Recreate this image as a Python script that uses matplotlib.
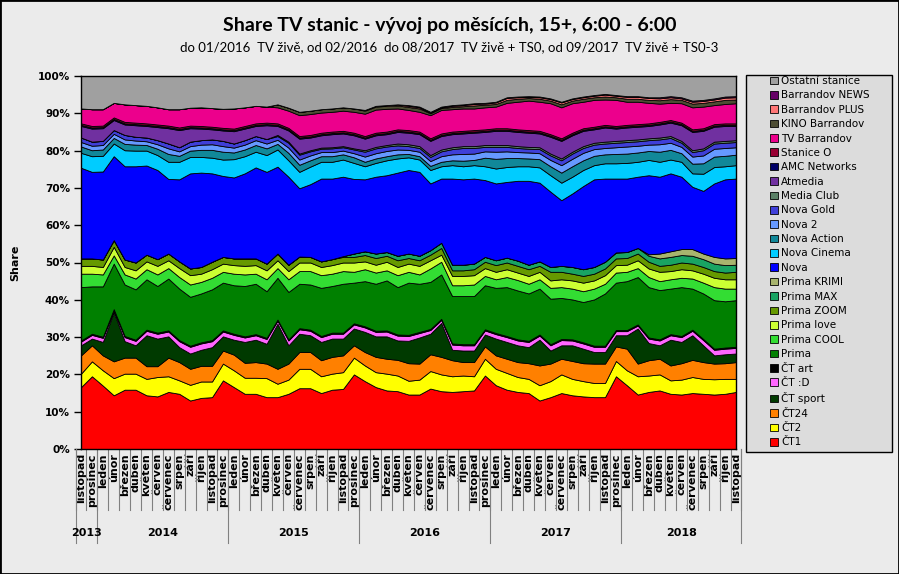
import matplotlib.pyplot as plt
from matplotlib.patches import Patch, Rectangle
import numpy as np

# categories: listopad 2013 .. listopad 2018
month_names = ['leden', 'únor', 'březen', 'duben', 'květen', 'červen',
               'červenec', 'srpen', 'září', 'říjen', 'listopad', 'prosinec']
years = ['2013', '2014', '2015', '2016', '2017', '2018']
year_counts = [2, 12, 12, 12, 12, 11]
months = month_names[10:] + month_names * 4 + month_names[:11]

# shares in %, bottom -> top of the stack
ct1 = [16.6, 19.5, 17.0, 14.4, 15.9, 15.9, 14.4, 14.1, 15.3, 14.8,
       13.0, 13.7, 13.9, 18.4, 16.6, 14.8, 14.8, 13.9, 13.9, 14.8,
       16.3, 16.3, 15.0, 15.9, 16.1, 20.0, 18.2, 16.6, 15.7, 15.5,
       14.6, 14.6, 16.2, 15.5, 15.3, 15.5, 15.7, 19.7, 17.1, 15.9,
       15.3, 15.0, 13.0, 13.9, 15.0, 14.4, 14.1, 13.9, 13.9, 19.5,
       17.1, 14.6, 15.3, 15.7, 14.8, 14.6, 15.0, 14.8, 14.6, 14.8, 15.3]
ct2 = [3.6, 4.0, 4.1, 4.6, 4.3, 4.3, 4.4, 5.2, 4.2, 3.6,
       4.2, 4.4, 4.2, 4.5, 4.5, 4.3, 4.3, 5.1, 3.6, 3.8,
       5.2, 5.2, 4.5, 4.3, 4.5, 4.5, 4.2, 4.0, 4.5, 4.2,
       3.7, 4.0, 4.7, 4.5, 4.2, 4.2, 3.8, 4.5, 4.4, 4.5,
       4.0, 3.8, 4.1, 4.3, 5.0, 4.4, 4.1, 3.8, 3.8, 4.1,
       4.0, 4.9, 4.4, 4.3, 3.6, 4.0, 4.3, 4.0, 4.1, 4.0, 3.5]
ct24 = [4.9, 4.3, 4.0, 4.5, 4.3, 4.3, 3.4, 2.9, 5.0, 4.9,
        4.3, 4.2, 4.2, 3.5, 4.2, 4.0, 4.2, 3.9, 4.0, 4.3,
        4.5, 4.5, 4.3, 4.5, 4.5, 3.3, 3.6, 4.1, 4.0, 4.2,
        4.7, 4.3, 4.5, 4.7, 4.3, 3.6, 3.8, 3.3, 3.6, 3.8,
        4.0, 4.2, 5.3, 4.7, 4.2, 4.8, 4.8, 5.2, 5.2, 3.9,
        5.8, 3.4, 4.1, 4.2, 4.0, 4.4, 4.6, 4.5, 4.2, 4.2, 4.5]
ct_sport = [2.7, 1.8, 3.6, 13.2, 4.4, 3.3, 8.3, 7.4, 5.7, 4.0,
            4.1, 4.3, 5.0, 3.8, 4.0, 5.6, 6.0, 5.3, 12.1, 4.9,
            4.9, 4.5, 4.9, 4.9, 4.5, 4.5, 5.4, 5.5, 6.0, 5.2,
            6.0, 7.0, 5.5, 9.1, 2.8, 3.1, 3.1, 3.2, 4.5, 4.5,
            4.5, 4.3, 6.9, 3.5, 3.6, 4.2, 3.9, 3.1, 3.1, 3.0,
            3.6, 9.4, 4.6, 3.6, 6.9, 5.7, 6.6, 4.5, 2.2, 2.4, 2.3]
ct_d = [1.0, 1.0, 1.1, 0.5, 1.1, 1.2, 1.2, 1.3, 1.3, 1.6,
        1.8, 1.7, 1.6, 1.3, 1.3, 1.2, 1.2, 1.3, 0.8, 1.3,
        1.2, 1.2, 1.3, 1.3, 1.3, 1.1, 1.2, 1.2, 1.3, 1.3,
        1.3, 1.2, 1.0, 0.8, 1.4, 1.4, 1.4, 1.1, 1.2, 1.3,
        1.3, 1.4, 1.1, 1.4, 1.4, 1.3, 1.4, 1.4, 1.4, 1.1,
        1.1, 0.8, 1.2, 1.3, 1.2, 1.3, 1.2, 1.4, 1.5, 1.5, 1.5]
ct_art = [0.3, 0.3, 0.3, 0.3, 0.3, 0.3, 0.3, 0.3, 0.3, 0.3,
          0.3, 0.3, 0.3, 0.3, 0.3, 0.3, 0.3, 0.3, 0.3, 0.3,
          0.3, 0.3, 0.3, 0.3, 0.3, 0.3, 0.3, 0.3, 0.3, 0.3,
          0.3, 0.3, 0.3, 0.3, 0.3, 0.3, 0.3, 0.3, 0.3, 0.3,
          0.3, 0.3, 0.3, 0.3, 0.3, 0.3, 0.3, 0.3, 0.3, 0.3,
          0.3, 0.3, 0.3, 0.3, 0.3, 0.3, 0.3, 0.3, 0.3, 0.3, 0.3]
prima = [14.3, 12.7, 13.5, 12.2, 13.8, 13.5, 13.5, 12.5, 13.9, 13.8,
         13.1, 13.1, 13.6, 12.8, 13.0, 13.5, 13.5, 12.5, 11.2, 12.7,
         11.9, 12.1, 12.9, 12.5, 13.1, 10.9, 12.1, 12.6, 13.4, 12.7,
         14.0, 12.9, 12.6, 11.9, 12.7, 12.9, 12.9, 11.8, 12.1, 13.1,
         13.1, 12.7, 12.3, 12.2, 11.0, 10.7, 10.8, 12.4, 14.0, 12.7,
         13.1, 12.7, 13.5, 13.2, 12.2, 13.1, 11.0, 12.2, 13.0, 12.4, 12.5]
prima_cool = [3.6, 3.4, 3.2, 2.2, 2.7, 2.9, 2.7, 3.1, 2.8, 3.1,
              3.3, 3.1, 3.1, 2.9, 3.1, 3.1, 2.7, 3.2, 2.6, 3.4,
              3.4, 3.6, 3.4, 3.3, 3.4, 2.9, 3.2, 3.0, 2.7, 3.2,
              2.9, 2.5, 3.6, 3.4, 2.9, 2.9, 3.1, 2.5, 2.3, 2.7,
              2.8, 2.6, 2.5, 2.9, 2.9, 2.9, 2.9, 2.9, 2.6, 2.7,
              2.5, 2.4, 2.7, 2.4, 2.5, 2.5, 2.7, 2.9, 3.5, 3.4, 3.1]
prima_love = [2.1, 2.1, 2.0, 2.3, 2.0, 2.2, 2.1, 2.3, 2.1, 2.4,
              2.5, 2.2, 2.3, 2.2, 2.3, 2.3, 2.3, 2.4, 2.1, 2.2,
              2.3, 2.3, 2.2, 2.3, 2.3, 2.5, 2.1, 2.1, 2.3, 2.2,
              2.2, 2.3, 2.2, 1.9, 2.5, 2.5, 2.5, 2.1, 2.0, 2.1,
              2.0, 2.1, 2.0, 2.0, 2.1, 2.2, 2.3, 2.2, 2.3, 2.0,
              1.9, 2.1, 2.3, 2.5, 2.2, 2.3, 2.2, 2.4, 2.5, 2.5, 2.5]
prima_zoom = [2.0, 2.0, 2.0, 1.8, 2.0, 2.1, 1.8, 1.8, 1.8, 1.8,
              1.8, 1.8, 2.0, 1.8, 1.8, 2.0, 1.8, 1.8, 1.8, 1.7,
              1.6, 1.5, 1.5, 1.6, 1.5, 1.5, 1.7, 1.8, 1.6, 1.8,
              1.5, 1.5, 1.5, 1.8, 1.5, 1.5, 1.6, 1.7, 1.8, 1.8,
              1.8, 1.8, 1.6, 2.3, 2.0, 1.8, 1.8, 1.8, 1.8, 1.8,
              1.8, 1.8, 1.8, 1.6, 1.7, 1.8, 1.8, 1.8, 1.8, 1.8, 2.0]
prima_max = [0, 0, 0, 0, 0, 0, 0, 0, 0, 0,
             0, 0, 0, 0, 0, 0, 0, 0, 0, 0,
             0, 0, 0, 0, 0.2, 0.9, 1.0, 1.2, 1.0, 1.2,
             1.2, 1.2, 1.2, 1.4, 1.5, 1.5, 1.5, 1.3, 1.3, 1.3,
             1.4, 1.2, 1.2, 1.3, 1.6, 1.8, 1.8, 1.8, 1.8, 1.6,
             1.6, 1.5, 1.6, 2.0, 2.1, 2.0, 2.1, 2.1, 2.0, 2.0, 1.9]
prima_krimi = [0, 0, 0, 0, 0, 0, 0, 0, 0, 0,
               0, 0, 0, 0, 0, 0, 0, 0, 0, 0,
               0, 0, 0, 0, 0, 0, 0, 0, 0, 0,
               0, 0, 0, 0, 0, 0, 0, 0, 0, 0,
               0, 0, 0, 0, 0, 0, 0, 0, 0, 0,
               0, 0, 0.4, 1.3, 1.5, 1.6, 1.8, 1.5, 1.8, 1.8, 1.8]
nova = [24.3, 23.2, 23.6, 22.5, 25.0, 25.8, 23.9, 23.9, 20.0, 22.0,
        25.5, 25.3, 23.7, 21.7, 21.7, 22.8, 24.4, 24.6, 23.3, 23.6,
        18.3, 19.5, 22.2, 21.6, 21.3, 20.0, 19.3, 20.6, 20.6, 22.3,
        22.4, 22.5, 17.9, 17.2, 23.1, 22.9, 22.8, 20.6, 20.6, 20.3,
        21.4, 22.5, 21.1, 20.2, 17.6, 19.7, 22.3, 23.5, 22.3, 19.8,
        19.7, 19.1, 21.2, 20.6, 20.9, 19.4, 16.7, 16.8, 19.7, 21.2, 21.3]
nova_cinema = [4.0, 4.2, 4.2, 3.4, 4.3, 4.2, 4.0, 4.0, 4.6, 4.7,
               4.4, 4.2, 4.2, 4.4, 4.9, 4.6, 4.2, 4.5, 4.6, 4.4,
               4.4, 4.7, 4.5, 4.5, 4.6, 4.3, 3.5, 3.7, 4.0, 3.8,
               3.4, 3.3, 3.6, 3.3, 3.6, 3.5, 3.6, 3.7, 4.0, 4.0,
               3.9, 3.9, 4.1, 4.4, 4.7, 4.5, 4.3, 3.8, 4.1, 4.1,
               4.2, 4.0, 4.1, 4.0, 3.7, 4.0, 3.6, 4.6, 4.4, 3.5, 3.6]
nova_action = [1.7, 1.6, 1.7, 1.5, 1.7, 1.6, 1.5, 1.7, 2.1, 1.6,
               1.7, 1.9, 2.1, 2.1, 1.8, 1.8, 1.8, 1.8, 1.5, 2.0,
               1.9, 1.7, 1.5, 1.5, 1.4, 1.5, 1.2, 1.2, 1.1, 1.1,
               0.9, 0.9, 1.1, 1.2, 1.3, 1.5, 1.4, 2.3, 2.6, 2.4,
               2.2, 2.1, 2.2, 2.4, 2.7, 2.8, 2.6, 2.5, 2.4, 2.5,
               2.5, 2.5, 2.4, 2.7, 2.6, 2.3, 2.6, 2.8, 2.8, 2.8, 2.8]
nova_2 = [1.2, 1.2, 1.2, 1.1, 1.2, 1.1, 1.0, 1.2, 1.5, 1.2,
          1.2, 1.4, 1.5, 1.5, 1.3, 1.3, 1.3, 1.3, 1.1, 1.4,
          1.4, 1.3, 1.1, 1.1, 1.0, 1.1, 1.4, 1.4, 1.4, 1.3,
          1.1, 1.2, 1.3, 1.5, 1.6, 1.8, 1.7, 1.7, 1.9, 1.8,
          1.6, 1.6, 1.6, 1.7, 2.0, 2.0, 2.0, 1.8, 1.7, 1.8,
          1.9, 1.8, 1.7, 2.0, 1.9, 1.7, 1.9, 2.1, 2.1, 2.1, 2.0]
nova_gold = [1.2, 1.1, 1.1, 1.0, 1.2, 1.0, 1.0, 1.1, 1.3, 1.1,
             1.2, 1.2, 1.3, 1.4, 1.1, 1.2, 1.1, 1.2, 1.0, 1.3,
             1.3, 1.1, 0.9, 1.0, 0.9, 1.0, 1.3, 1.3, 1.2, 1.1,
             1.0, 1.0, 1.1, 1.3, 1.4, 1.6, 1.5, 1.2, 1.3, 1.2,
             1.1, 1.0, 1.1, 1.2, 1.3, 1.4, 1.3, 1.2, 1.2, 1.2,
             1.2, 1.2, 1.2, 1.3, 1.3, 1.1, 1.2, 1.4, 1.4, 1.4, 1.4]
media_club = [0, 0, 0, 0, 0, 0, 0, 0, 0, 0,
              0, 0, 0, 0, 0, 0, 0, 0, 0.3, 0.3,
              0.3, 0.3, 0.3, 0.3, 0.3, 0.3, 0.4, 0.4, 0.4, 0.5,
              0.5, 0.5, 0.5, 0.5, 0.5, 0.5, 0.5, 0.5, 0.5, 0.5,
              0.5, 0.5, 0.5, 0.5, 0.5, 0.5, 0.5, 0.5, 0.5, 0.5,
              0.5, 0.5, 0.5, 0.5, 0.5, 0.5, 0.5, 0.5, 0.5, 0.5, 0.5]
atmedia = [3.1, 3.5, 3.4, 2.7, 2.8, 3.1, 3.1, 3.5, 4.1, 4.6,
           3.6, 3.1, 2.7, 2.8, 3.3, 3.1, 2.7, 3.7, 2.4, 3.0,
           4.0, 3.4, 3.3, 3.5, 3.4, 3.5, 3.1, 3.1, 2.9, 3.1,
           3.1, 3.2, 3.8, 3.6, 3.5, 3.4, 3.6, 3.5, 3.8, 3.8,
           3.8, 3.8, 3.7, 4.5, 4.7, 4.4, 4.1, 3.6, 3.8, 3.3,
           3.4, 3.4, 3.3, 3.5, 3.6, 4.2, 4.9, 4.7, 4.0, 4.0, 3.8]
amc = [0.3, 0.3, 0.3, 0.3, 0.3, 0.3, 0.3, 0.3, 0.3, 0.3,
       0.3, 0.3, 0.3, 0.3, 0.3, 0.3, 0.3, 0.3, 0.3, 0.3,
       0.3, 0.3, 0.3, 0.3, 0.3, 0.3, 0.3, 0.3, 0.3, 0.3,
       0.3, 0.3, 0.3, 0.3, 0.3, 0.3, 0.3, 0.3, 0.3, 0.3,
       0.3, 0.3, 0.3, 0.3, 0.3, 0.3, 0.3, 0.3, 0.3, 0.3,
       0.3, 0.3, 0.3, 0.3, 0.3, 0.3, 0.3, 0.3, 0.3, 0.3, 0.3]
stanice_o = [0.4, 0.4, 0.4, 0.4, 0.4, 0.4, 0.4, 0.4, 0.4, 0.4,
             0.4, 0.4, 0.4, 0.4, 0.4, 0.4, 0.4, 0.4, 0.4, 0.4,
             0.4, 0.4, 0.4, 0.4, 0.4, 0.4, 0.4, 0.4, 0.4, 0.4,
             0.4, 0.4, 0.4, 0.4, 0.4, 0.4, 0.4, 0.4, 0.4, 0.4,
             0.4, 0.4, 0.4, 0.4, 0.4, 0.4, 0.4, 0.4, 0.4, 0.4,
             0.4, 0.4, 0.4, 0.4, 0.4, 0.4, 0.4, 0.4, 0.4, 0.4, 0.4]
tv_barrandov = [4.0, 4.5, 4.4, 3.9, 4.7, 4.7, 4.7, 4.6, 4.4, 4.9,
                4.8, 5.0, 5.0, 5.1, 5.4, 5.0, 4.7, 4.3, 4.3, 4.6,
                5.6, 5.6, 5.4, 5.3, 5.4, 5.6, 6.0, 6.2, 6.1, 5.6,
                5.4, 5.3, 6.2, 6.3, 6.0, 6.0, 5.8, 5.9, 5.8, 6.8,
                7.4, 7.9, 7.8, 8.3, 8.3, 7.9, 7.1, 7.2, 6.8, 7.0,
                6.2, 6.0, 5.5, 4.9, 4.6, 5.2, 5.9, 5.8, 5.1, 5.2, 5.4]
kino_barrandov = [0, 0, 0, 0, 0, 0, 0, 0, 0, 0,
                  0, 0, 0, 0, 0, 0, 0, 0, 0.8, 0.8,
                  0.9, 0.9, 0.9, 0.9, 0.9, 0.9, 0.8, 0.8, 0.8, 0.8,
                  0.8, 0.9, 0.5, 0.5, 0.6, 0.6, 0.8, 0.7, 0.7, 0.8,
                  0.8, 0.7, 0.8, 0.7, 0.8, 0.7, 0.8, 0.7, 0.8, 0.7,
                  0.8, 0.8, 0.8, 0.9, 1.0, 0.9, 1.0, 1.0, 1.0, 1.1, 1.0]
barrandov_plus = [0, 0, 0, 0, 0, 0, 0, 0, 0, 0,
                  0, 0, 0, 0, 0, 0, 0, 0, 0, 0,
                  0, 0, 0, 0, 0, 0, 0.2, 0.2, 0.2, 0.3,
                  0.3, 0.3, 0.2, 0.2, 0.3, 0.3, 0.4, 0.3, 0.4, 0.5,
                  0.4, 0.3, 0.4, 0.4, 0.5, 0.4, 0.4, 0.4, 0.5, 0.4,
                  0.5, 0.5, 0.5, 0.5, 0.5, 0.4, 0.5, 0.5, 0.5, 0.6, 0.6]
barrandov_news = [0, 0, 0, 0, 0, 0, 0, 0, 0, 0,
                  0, 0, 0, 0, 0, 0, 0, 0, 0, 0,
                  0, 0, 0, 0, 0, 0, 0, 0, 0, 0,
                  0.2, 0.2, 0.2, 0.2, 0.2, 0.2, 0.2, 0.2, 0.2, 0.2,
                  0.2, 0.2, 0.2, 0.2, 0.2, 0.2, 0.2, 0.2, 0.2, 0.2,
                  0.2, 0.2, 0.2, 0.3, 0.3, 0.3, 0.3, 0.3, 0.3, 0.3, 0.3]
ostatni = [8.7, 8.9, 8.9, 7.2, 7.6, 7.8, 8.0, 8.4, 8.9, 8.9,
           8.5, 8.4, 8.6, 8.8, 8.7, 8.4, 8.0, 8.2, 7.6, 8.5,
           9.6, 9.3, 8.9, 8.7, 8.4, 8.7, 9.1, 8.0, 7.8, 7.6,
           7.8, 8.2, 9.6, 8.2, 7.8, 7.6, 7.3, 7.2, 6.9, 5.7,
           5.5, 5.4, 5.5, 6.0, 6.9, 6.0, 5.5, 5.1, 4.8, 5.1,
           5.4, 5.4, 5.7, 5.7, 5.4, 5.7, 6.6, 6.4, 6.0, 5.5, 5.4]

labels = ['ČT1', 'ČT2', 'ČT24', 'ČT sport', 'ČT :D', 'ČT art', 'Prima',
          'Prima COOL', 'Prima love', 'Prima ZOOM', 'Prima MAX', 'Prima KRIMI',
          'Nova', 'Nova Cinema', 'Nova Action', 'Nova 2', 'Nova Gold',
          'Media Club', 'Atmedia', 'AMC Networks', 'Stanice O', 'TV Barrandov',
          'KINO Barrandov', 'Barrandov PLUS', 'Barrandov NEWS', 'Ostatní stanice']
series = [ct1, ct2, ct24, ct_sport, ct_d, ct_art, prima, prima_cool, prima_love,
          prima_zoom, prima_max, prima_krimi, nova, nova_cinema, nova_action,
          nova_2, nova_gold, media_club, atmedia, amc, stanice_o, tv_barrandov,
          kino_barrandov, barrandov_plus, barrandov_news, ostatni]
colors = ['#ff0000', '#ffff00', '#ff8000', '#003a00', '#ff66ff', '#000000',
          '#008000', '#33dd33', '#ccff33', '#669900', '#19a463', '#a8b46e',
          '#0000ff', '#00ccff', '#118899', '#6699ff', '#3f3fd8',
          '#5a8066', '#7030a0', '#000066', '#990033', '#ec008c',
          '#4d4d33', '#ff7777', '#660066', '#a0a0a0']

W, H = 899, 574
fig = plt.figure(figsize=(W / 100, H / 100), dpi=100, facecolor='#ebebeb')
ax = fig.add_axes([81 / W, 1 - 449 / H, 655 / W, 373 / H])
x = np.arange(len(months))
ax.stackplot(x, *series, colors=colors, edgecolor='black', linewidth=0.6)
ax.set_xlim(0, len(months) - 1)
ax.set_ylim(0, 100)
ax.set_facecolor('white')

ax.set_yticks(range(0, 101, 10))
ax.set_yticklabels([f'{v}%' for v in range(0, 101, 10)], fontweight='bold', fontsize=7.5)
ax.tick_params(axis='y', length=5, width=1, pad=3)
ax.set_xticks(x)
ax.set_xticklabels(months, rotation=90, fontweight='bold', fontsize=8)
ax.tick_params(axis='x', length=0, pad=3)
ax.set_ylabel('Share', fontweight='bold', fontsize=8)
ax.yaxis.set_label_coords(-61 / 655, 0.5)
for s in ax.spines.values():
    s.set_linewidth(1)

# category separators and year labels below the axis
trans = ax.get_xaxis_transform()
for i in range(len(months) + 1):
    ax.plot([i - 0.5, i - 0.5], [0, -61 / 373], transform=trans, color='#808080',
            lw=0.8, clip_on=False)
start = 0
for yr, n in zip(years, year_counts):
    ax.plot([start - 0.5, start - 0.5], [0, -94 / 373], transform=trans, color='#808080',
            lw=0.8, clip_on=False)
    ax.text(start + (n - 1) / 2, -84 / 373, yr, transform=trans, ha='center', va='center',
            fontweight='bold', fontsize=8)
    start += n
ax.plot([start - 0.5, start - 0.5], [0, -94 / 373], transform=trans, color='#808080',
        lw=0.8, clip_on=False)

fig.text(0.5, 1 - 25 / H, 'Share TV stanic - vývoj po měsících, 15+, 6:00 - 6:00',
         ha='center', va='center', fontsize=14, fontweight='bold', family=['Lato', 'DejaVu Sans'])
fig.text(0.5, 1 - 47 / H,
         'do 01/2016  TV živě, od 02/2016  do 08/2017  TV živě + TS0, od 09/2017  TV živě + TS0-3',
         ha='center', va='center', fontsize=9.5, family=['Lato', 'DejaVu Sans'])

# legend box
fig.patches.append(Rectangle((746 / W, 1 - 452 / H), 146 / W, 377 / H, transform=fig.transFigure,
                             facecolor='#dcdcdc', edgecolor='black', lw=1, zorder=0))
handles = [Patch(facecolor=c, edgecolor='black', lw=0.6) for c in colors]
fig.legend(handles[::-1], labels[::-1], loc='upper left', bbox_to_anchor=(770 / W, 1 - 76 / H),
           frameon=False, fontsize=7.5, handlelength=0.75, handleheight=0.75,
           handletextpad=0.3, labelspacing=0.42, borderpad=0, borderaxespad=0)

fig.patches.append(Rectangle((0, 0), 1, 1, transform=fig.transFigure, fill=False,
                             edgecolor='black', lw=2))
fig.savefig('out.png', dpi=100, facecolor=fig.get_facecolor())
